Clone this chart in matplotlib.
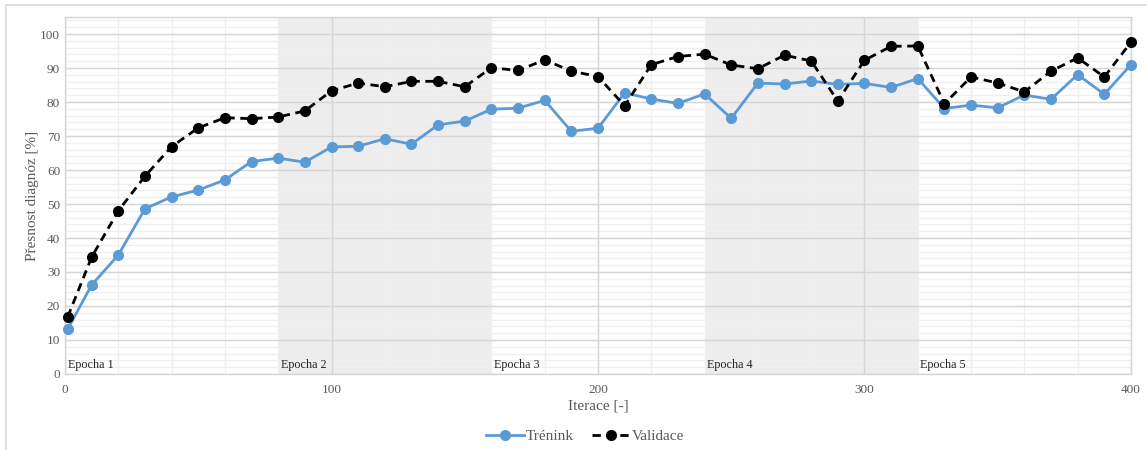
import matplotlib.pyplot as plt
from matplotlib.patches import Rectangle

# Iterations and accuracies
iterace = [1] + list(range(10, 401, 10))
trenink = [13.2, 26.2, 35.0, 48.6, 52.1, 54.1, 57.1, 62.5, 63.5, 62.3,
           66.8, 67.0, 69.2, 67.6, 73.3, 74.4, 77.9, 78.2, 80.5, 71.4,
           72.3, 82.7, 80.9, 79.6, 82.4, 75.2, 85.6, 85.3, 86.2, 85.2,
           85.5, 84.3, 86.9, 78.1, 79.1, 78.3, 82.1, 80.8, 88.1, 82.3, 91.0]
validace = [16.8, 34.4, 48.0, 58.2, 66.9, 72.4, 75.4, 75.1, 75.6, 77.4,
            83.3, 85.6, 84.5, 86.1, 86.1, 84.5, 90.1, 89.3, 92.4, 89.1,
            87.5, 78.9, 91.0, 93.4, 94.1, 90.9, 89.8, 93.8, 92.1, 80.3,
            92.3, 96.4, 96.5, 79.5, 87.4, 85.6, 83.0, 89.1, 93.0, 87.4, 97.6]

# Epoch boundaries
epochy = ["Epocha 1", "Epocha 2", "Epocha 3", "Epocha 4", "Epocha 5"]
epocha_start = [0, 80, 160, 240, 320]
epocha_delka = 80

x_ticks = [0, 100, 200, 300, 400]
y_ticks = [0, 10, 20, 30, 40, 50, 60, 70, 80, 90, 100]

plt.rcParams['font.family'] = ['Liberation Serif', 'DejaVu Serif']

fig = plt.figure(figsize=(11.47, 4.5), dpi=100)
ax = fig.add_axes([0.0567, 0.169, 0.9293, 0.793])

# light outer frame
fig.patches.append(Rectangle((0.005, -0.05), 1.1, 1.039, transform=fig.transFigure,
                             fill=False, edgecolor="#d9d9d9", linewidth=1.2))

# shaded epochs
for i, start in enumerate(epocha_start):
    if i % 2 == 1:
        ax.axvspan(start, start + epocha_delka, color="#ededed", zorder=0, lw=0)
    ax.text(start + 1, 0.8, epochy[i], fontsize=8.7, color="#222222",
            ha="left", va="bottom", zorder=3)

ax.set_xlim(0, 400)
ax.set_ylim(0, 105)
ax.set_xticks(x_ticks)
ax.set_yticks(y_ticks)

# gridlines: minor first, major on top
for yv in range(0, 106, 2):
    ax.axhline(yv, color="#efefef", linewidth=0.9, zorder=0.6)
for xv in range(0, 401, 20):
    ax.axvline(xv, color="#efefef", linewidth=0.9, zorder=0.6)
for yv in y_ticks:
    ax.axhline(yv, color="#d6d6d6", linewidth=1.0, zorder=0.7)
for xv in x_ticks:
    ax.axvline(xv, color="#d6d6d6", linewidth=1.0, zorder=0.7)

ax.plot(iterace, trenink, color="#5b9bd5", linewidth=2, marker="o",
        markersize=7, label="Trénink", zorder=4, clip_on=False)
ax.plot(iterace, validace, color="black", linewidth=2, linestyle=(0, (3, 2)),
        marker="o", markersize=7, label="Validace", zorder=5, clip_on=False)

for s in ax.spines.values():
    s.set_color("#d6d6d6")
    s.set_linewidth(1.0)

ax.tick_params(which="both", length=0, colors="#595959", labelsize=9.5)
ax.tick_params(axis="x", pad=7)
ax.set_xlabel("Iterace [-]", fontsize=11, color="#595959", labelpad=3)
ax.set_ylabel("Přesnost diagnóz [%]", fontsize=11, color="#595959", labelpad=1)

fig.legend(loc="center", bbox_to_anchor=(0.51, 0.03), ncol=2, frameon=False,
           fontsize=11, labelcolor="#595959", handlelength=2.5, columnspacing=1.2,
           handletextpad=0.1)

fig.savefig("out.png", dpi=100)
